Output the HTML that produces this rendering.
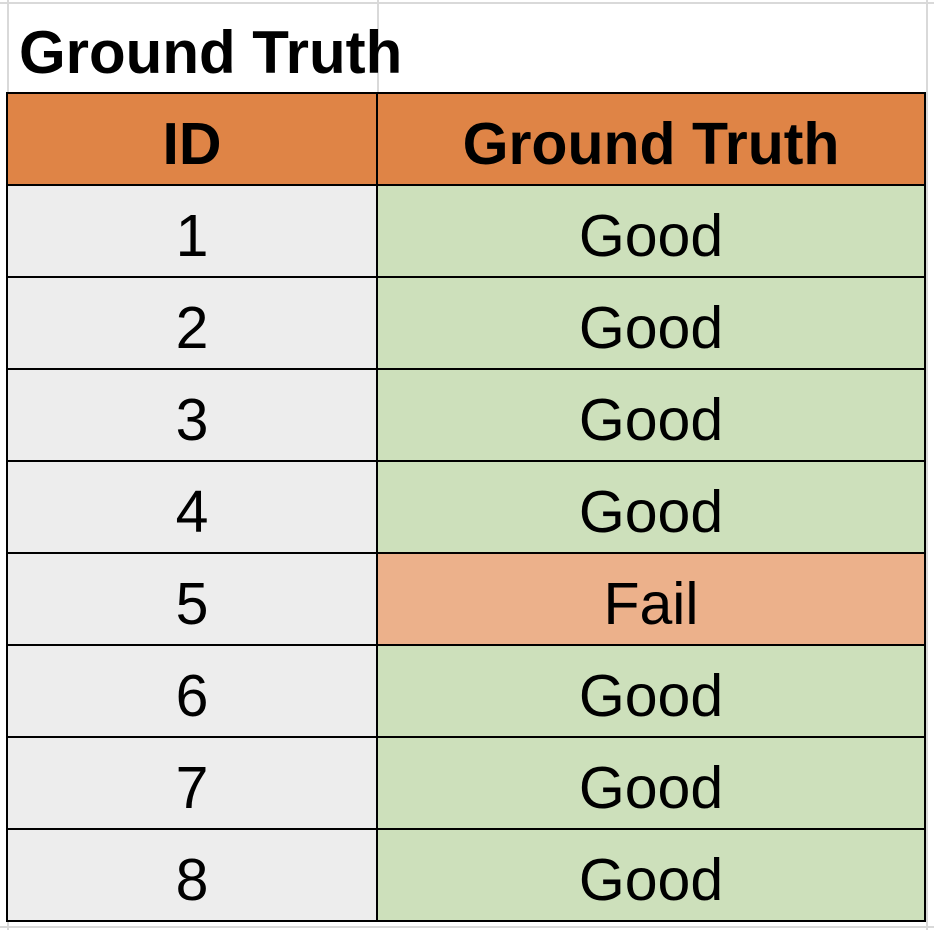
<!DOCTYPE html>
<html><head><meta charset="utf-8"><style>
body{margin:0;width:934px;height:930px;background:#fff;position:relative;overflow:hidden;font-family:"Liberation Sans",Arial,sans-serif;}
.g{position:absolute;background:#d9d9d9;}
.c{position:absolute;box-sizing:border-box;display:flex;align-items:center;justify-content:center;color:#000;font-size:59px;padding-top:9px;}
.line{position:absolute;background:#000;}
</style></head><body>
<div class="g" style="left:0;top:2px;width:934px;height:2px"></div>
<div class="g" style="left:7px;top:0;width:2px;height:930px"></div>
<div class="g" style="left:377px;top:0;width:2px;height:93px"></div>
<div class="g" style="left:926px;top:0;width:2px;height:930px"></div>
<div class="g" style="left:0;top:926px;width:934px;height:2px"></div>
<div style="position:absolute;left:19px;top:20px;font-size:60px;font-weight:bold;line-height:66px;">Ground Truth</div>
<div id="tbl"></div>
<script>
var ids=[1,2,3,4,5,6,7,8];
var truths=["Good","Good","Good","Good","Fail","Good","Good","Good"];
var tbl=document.getElementById('tbl');
function cell(x,y,w,h,bg,txt,bold,name){
  var d=document.createElement('div');d.className='c';
  
  
  d.style.cssText='left:'+x+'px;top:'+y+'px;width:'+w+'px;height:'+h+'px;background:'+bg+';'+(bold?'font-weight:bold;':'');
  d.textContent=txt;tbl.appendChild(d);
}
var L=7,M=377,R=925,T=93,H=92;
cell(L,T,M-L,H,'#df8446','ID',true,'header-id');
cell(M,T,R-M,H,'#df8446','Ground Truth',true,'header-ground-truth');
for(var i=0;i<ids.length;i++){
  var y=T+H*(i+1);
  cell(L,y,M-L,H,'#ededed',String(ids[i]),false,'id-cell-'+ids[i]);
  cell(M,y,R-M,H,truths[i]==='Fail'?'#ecb18b':'#cde0bb',truths[i],false,'truth-cell-'+ids[i]);
}
function ln(x,y,w,h,name){var d=document.createElement('div');d.className='line';
  
  
  d.style.cssText='left:'+x+'px;top:'+y+'px;width:'+w+'px;height:'+h+'px;';tbl.appendChild(d);}
var B=T+H*(ids.length+1);
for(var j=0;j<=ids.length+1;j++){ln(L-1,T+H*j-1,R-L+2,2,'row-border');}
ln(L-1,T-1,2,B-T+2,'col-border');
ln(M-1,T-1,2,B-T+2,'col-border');
ln(R-1,T-1,2,B-T+2,'col-border');
</script>
</body></html>
